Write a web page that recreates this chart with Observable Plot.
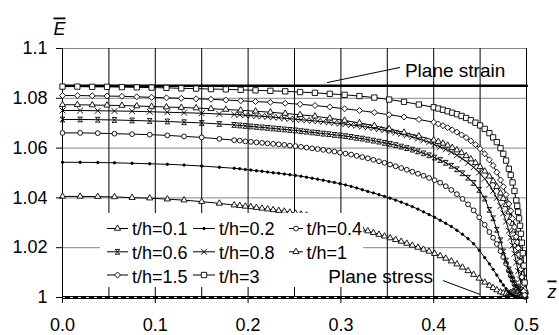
<!DOCTYPE html>
<html><head><meta charset="utf-8">
<script src="https://cdn.jsdelivr.net/npm/d3@7"></script>
<script src="https://cdn.jsdelivr.net/npm/@observablehq/plot@0.6"></script>
<style>body{margin:0;background:#fff;} #chart{width:559px;height:335px;}</style>
</head><body><div id="chart"></div>
<script>
// ---- data ----
const zThin = [
 0, 0.019, 0.038, 0.056, 0.075, 0.094, 0.113, 0.131, 0.150, 0.169,
 0.185, 0.191, 0.197, 0.203, 0.209, 0.215, 0.221, 0.227, 0.233, 0.239,
 0.245, 0.251, 0.257, 0.263, 0.269, 0.275, 0.281, 0.287, 0.293, 0.299,
 0.305, 0.311, 0.317, 0.323, 0.329, 0.335, 0.341, 0.347, 0.353, 0.359,
 0.365, 0.371, 0.377, 0.383, 0.389, 0.395, 0.401, 0.407, 0.413, 0.419,
 0.425, 0.431, 0.437, 0.443, 0.449, 0.455, 0.460, 0.464, 0.468, 0.472,
 0.475, 0.478, 0.481, 0.483, 0.485, 0.487, 0.489, 0.491, 0.493, 0.495,
 0.497, 0.499];
const zThick = [
 0, 0.016, 0.032, 0.048, 0.064, 0.08, 0.096, 0.112, 0.128, 0.144,
 0.16, 0.176, 0.192, 0.208, 0.224, 0.24, 0.256, 0.272, 0.288, 0.304,
 0.32, 0.336, 0.352, 0.368, 0.384, 0.400, 0.405, 0.410, 0.415, 0.420,
 0.425, 0.430, 0.435, 0.440, 0.445, 0.450, 0.455, 0.460, 0.464, 0.468,
 0.472, 0.475, 0.478, 0.481, 0.483, 0.485, 0.487, 0.489, 0.490, 0.491,
 0.492, 0.493, 0.494, 0.495, 0.496, 0.497, 0.498];

const e01 = [
 1.0406, 1.0406, 1.0405, 1.0404, 1.0401, 1.0399, 1.0395, 1.0391, 1.0385, 1.0378,
 1.0371, 1.0369, 1.0366, 1.0364, 1.0361, 1.0358, 1.0355, 1.0352, 1.0349, 1.0346,
 1.0342, 1.0338, 1.0334, 1.0330, 1.0325, 1.0320, 1.0315, 1.0309, 1.0304, 1.0298,
 1.0292, 1.0286, 1.0280, 1.0274, 1.0267, 1.0260, 1.0253, 1.0246, 1.0239, 1.0232,
 1.0225, 1.0217, 1.0209, 1.0201, 1.0193, 1.0185, 1.0176, 1.0167, 1.0157, 1.0146,
 1.0134, 1.0121, 1.0107, 1.0092, 1.0077, 1.0061, 1.0048, 1.0039, 1.0030, 1.0022,
 1.0018, 1.0016, 1.0017, 1.0019, 1.0022, 1.0026, 1.0030, 1.0034, 1.0036, 1.0035,
 1.0030, 1.0022];
const e02 = [
 1.0543, 1.0543, 1.0542, 1.0541, 1.0539, 1.0537, 1.0535, 1.0532, 1.0528, 1.0523,
 1.0519, 1.0517, 1.0514, 1.0512, 1.0509, 1.0507, 1.0504, 1.0501, 1.0499, 1.0496,
 1.0493, 1.0490, 1.0487, 1.0483, 1.0479, 1.0475, 1.0471, 1.0466, 1.0462, 1.0457,
 1.0452, 1.0446, 1.0440, 1.0433, 1.0426, 1.0420, 1.0413, 1.0406, 1.0399, 1.0391,
 1.0383, 1.0374, 1.0365, 1.0355, 1.0344, 1.0333, 1.0322, 1.0310, 1.0298, 1.0285,
 1.0270, 1.0254, 1.0236, 1.0216, 1.0190, 1.0160, 1.0135, 1.0113, 1.0090, 1.0066,
 1.0050, 1.0035, 1.0022, 1.0015, 1.0010, 1.0007, 1.0005, 1.0004, 1.0004, 1.0005,
 1.0006, 1.0008];
const e04 = [
 1.0661, 1.0661, 1.0660, 1.0658, 1.0656, 1.0654, 1.0651, 1.0647, 1.0643, 1.0637,
 1.0632, 1.0630, 1.0627, 1.0625, 1.0623, 1.0621, 1.0619, 1.0617, 1.0615, 1.0613,
 1.0610, 1.0608, 1.0605, 1.0602, 1.0599, 1.0596, 1.0593, 1.0589, 1.0586, 1.0582,
 1.0578, 1.0574, 1.0569, 1.0564, 1.0559, 1.0553, 1.0547, 1.0541, 1.0534, 1.0527,
 1.0520, 1.0513, 1.0505, 1.0497, 1.0489, 1.0480, 1.0471, 1.0461, 1.0447, 1.0432,
 1.0415, 1.0396, 1.0374, 1.0350, 1.0322, 1.0292, 1.0263, 1.0240, 1.0215, 1.0186,
 1.0162, 1.0136, 1.0108, 1.0089, 1.0071, 1.0053, 1.0037, 1.0024, 1.0014, 1.0008,
 1.0004, 1.0002];
const e06 = [
 1.0715, 1.0715, 1.0714, 1.0713, 1.0711, 1.0709, 1.0707, 1.0704, 1.0701, 1.0697,
 1.0693, 1.0691, 1.0689, 1.0687, 1.0685, 1.0683, 1.0681, 1.0679, 1.0677, 1.0675,
 1.0673, 1.0671, 1.0668, 1.0666, 1.0663, 1.0661, 1.0658, 1.0656, 1.0653, 1.0651,
 1.0648, 1.0645, 1.0641, 1.0638, 1.0634, 1.0630, 1.0626, 1.0621, 1.0617, 1.0612,
 1.0606, 1.0600, 1.0594, 1.0587, 1.0579, 1.0571, 1.0562, 1.0552, 1.0541, 1.0529,
 1.0515, 1.0499, 1.0481, 1.0460, 1.0432, 1.0397, 1.0352, 1.0318, 1.0272, 1.0230,
 1.0185, 1.0148, 1.0113, 1.0092, 1.0073, 1.0057, 1.0043, 1.0032, 1.0023, 1.0016,
 1.0010, 1.0006];
const e08 = [
 1.0751, 1.0751, 1.0750, 1.0749, 1.0748, 1.0746, 1.0744, 1.0742, 1.0740, 1.0737,
 1.0735, 1.0734, 1.0732, 1.0731, 1.0729, 1.0728, 1.0726, 1.0724, 1.0722, 1.0720,
 1.0718, 1.0716, 1.0714, 1.0712, 1.0710, 1.0708, 1.0706, 1.0703, 1.0701, 1.0699,
 1.0696, 1.0693, 1.0690, 1.0687, 1.0684, 1.0680, 1.0676, 1.0672, 1.0667, 1.0662,
 1.0657, 1.0651, 1.0645, 1.0638, 1.0631, 1.0623, 1.0614, 1.0605, 1.0595, 1.0584,
 1.0571, 1.0557, 1.0541, 1.0523, 1.0502, 1.0477, 1.0452, 1.0428, 1.0400, 1.0367,
 1.0338, 1.0305, 1.0268, 1.0240, 1.0209, 1.0176, 1.0141, 1.0106, 1.0073, 1.0045,
 1.0024, 1.0012];
const e1 = [
 1.0774, 1.0774, 1.0773, 1.0772, 1.0771, 1.0769, 1.0767, 1.0765, 1.0763, 1.0761,
 1.0758, 1.0755, 1.0752, 1.0748, 1.0744, 1.0739, 1.0734, 1.0728, 1.0720, 1.0711,
 1.0701, 1.0690, 1.0677, 1.0663, 1.0648, 1.0632, 1.0626, 1.0619, 1.0611, 1.0602,
 1.0592, 1.0581, 1.0569, 1.0556, 1.0541, 1.0525, 1.0507, 1.0487, 1.0468, 1.0445,
 1.0419, 1.0397, 1.0372, 1.0343, 1.0321, 1.0297, 1.0270, 1.0240, 1.0223, 1.0205,
 1.0186, 1.0165, 1.0143, 1.0119, 1.0093, 1.0065, 1.0035];
const e15 = [
 1.0811, 1.0811, 1.0810, 1.0809, 1.0808, 1.0806, 1.0804, 1.0802, 1.0800, 1.0798,
 1.0796, 1.0793, 1.0790, 1.0787, 1.0784, 1.0780, 1.0776, 1.0771, 1.0765, 1.0758,
 1.0751, 1.0743, 1.0734, 1.0725, 1.0715, 1.0704, 1.0697, 1.0690, 1.0682, 1.0673,
 1.0664, 1.0653, 1.0642, 1.0629, 1.0614, 1.0597, 1.0577, 1.0553, 1.0530, 1.0503,
 1.0472, 1.0445, 1.0413, 1.0376, 1.0348, 1.0317, 1.0283, 1.0244, 1.0222, 1.0198,
 1.0172, 1.0144, 1.0114, 1.0082, 1.0050, 1.0025, 1.0010];
const e3 = [
 1.0847, 1.0847, 1.0846, 1.0846, 1.0845, 1.0844, 1.0843, 1.0842, 1.0840, 1.0839,
 1.0837, 1.0836, 1.0834, 1.0832, 1.0830, 1.0828, 1.0825, 1.0822, 1.0818, 1.0814,
 1.0809, 1.0803, 1.0795, 1.0786, 1.0775, 1.0764, 1.0759, 1.0754, 1.0748, 1.0742,
 1.0736, 1.0729, 1.0721, 1.0712, 1.0702, 1.0691, 1.0677, 1.0660, 1.0643, 1.0624,
 1.0600, 1.0577, 1.0550, 1.0517, 1.0492, 1.0462, 1.0428, 1.0390, 1.0368, 1.0344,
 1.0318, 1.0288, 1.0256, 1.0220, 1.0178, 1.0128, 1.0060];

const seriesNames = ["t/h=0.1","t/h=0.2","t/h=0.4","t/h=0.6","t/h=0.8","t/h=1","t/h=1.5","t/h=3"];
const xTicks = [0, 0.1, 0.2, 0.3, 0.4, 0.5];
const xTickLabels = ["0.0","0.1","0.2","0.3","0.4","0.5"];
const yTicks = [1, 1.02, 1.04, 1.06, 1.08, 1.1];
const yTickLabels = ["1","1.02","1.04","1.06","1.08","1.1"];
const xGrid = [0.05, 0.1, 0.15, 0.2, 0.25, 0.3, 0.35, 0.4, 0.45, 0.5];
const yGrid = [1.02, 1.04, 1.06, 1.08, 1.1];
const planeStrainE = 1.085;
const planeStressE = 1;
const strainNote = {label: "Plane strain", z: 0.369, e: 1.0884, z1: 0.285, e1: 1.0863, z2: 0.3637, e2: 1.0924};
const stressNote = {label: "Plane stress", z: 0.2865, e: 1.0057, z1: 0.410, e1: 1.0068, z2: 0.4501, e2: 1.0012};
const yLabel = "E";
const xLabel = "z";

// ---- styles ----
const hourglass = {draw(ctx, size){const s = Math.sqrt(size)/2; ctx.moveTo(-s,-s); ctx.lineTo(s,-s); ctx.lineTo(-s,s); ctx.lineTo(s,s); ctx.closePath();}};
const symMap = {triangle: d3.symbolTriangle, circle: d3.symbolCircle, times: d3.symbolTimes, diamond2: d3.symbolDiamond2, square: d3.symbolSquare};
const styles = [
 {symbol: "triangle", r: 2.3, fill: "#fff"},
 {symbol: "circle", r: 1.2, fill: "#000"},
 {symbol: "circle", r: 2.4, fill: "#fff"},
 {symbol: hourglass, r: 2.7, fill: "none"},
 {symbol: "times", r: 2.8, fill: "none"},
 {symbol: "triangle", r: 2.3, fill: "#fff"},
 {symbol: "diamond2", r: 2.7, fill: "#fff"},
 {symbol: "square", r: 3.0, fill: "#fff"}
];
const seriesData = [[zThin,e01],[zThin,e02],[zThin,e04],[zThin,e06],[zThin,e08],[zThick,e1],[zThick,e15],[zThick,e3]];

const series = seriesNames.map((name, k) => {
  const [zs, es] = seriesData[k];
  const n = Math.min(zs.length, es.length);
  return {name, rows: zs.slice(0, n).map((z, i) => ({z, e: es[i]})), ...styles[k]};
});

const FONT = "'Liberation Sans', Arial, Helvetica, sans-serif";

const marks = [
  Plot.ruleY(yGrid, {stroke: "#888", strokeWidth: 1}),
  Plot.ruleX(xGrid, {stroke: "#000", strokeWidth: 1}),
  Plot.ruleX([0], {stroke: "#000", strokeWidth: 1}),
  Plot.ruleY([planeStrainE], {x1: 0, x2: 0.502, stroke: "#000", strokeWidth: 2.5}),
  Plot.ruleY([planeStressE], {stroke: "#000", strokeWidth: 3}),
  Plot.ruleY([planeStressE], {stroke: "#fff", strokeWidth: 1, strokeDasharray: "3,5"}),
];
for (const s of series) {
  marks.push(Plot.line(s.rows, {x: "z", y: "e", stroke: "#000", strokeWidth: 1}));
  marks.push(Plot.dot(s.rows, {x: "z", y: "e", symbol: s.symbol, r: s.r, fill: s.fill, stroke: "#000", strokeWidth: 0.9}));
}
marks.push(
  Plot.axisX({ticks: xTicks, tickFormat: d => xTickLabels[xTicks.indexOf(d)], tickSize: 6, tickPadding: 15, label: null, fontSize: 18}),
  Plot.axisY({ticks: yTicks, tickFormat: d => yTickLabels[yTicks.indexOf(d)], tickSize: 6, tickPadding: 9, label: null, fontSize: 18}),
  Plot.link([strainNote], {x1: "z1", y1: "e1", x2: "z2", y2: "e2", stroke: "#000", strokeWidth: 1}),
  Plot.link([stressNote], {x1: "z1", y1: "e1", x2: "z2", y2: "e2", stroke: "#000", strokeWidth: 1}),
  Plot.text([strainNote], {x: "z", y: "e", text: "label", textAnchor: "start", lineAnchor: "bottom", fontSize: 19, fill: "#000"}),
  Plot.text([stressNote], {x: "z", y: "e", text: "label", textAnchor: "start", lineAnchor: "bottom", fontSize: 19, fill: "#000"}),
  Plot.text([yLabel], {text: d => d, frameAnchor: "top-left", dx: -9, dy: -14, textAnchor: "start", lineAnchor: "bottom", fontSize: 18, fontStyle: "italic", fill: "#000"}),
  Plot.text([xLabel], {text: d => d, frameAnchor: "bottom-right", dx: 21, dy: 0, textAnchor: "start", lineAnchor: "bottom", fontSize: 18, fontStyle: "italic", fill: "#000"})
);

const svg = Plot.plot({
  width: 559, height: 335,
  marginLeft: 62, marginRight: 33, marginTop: 48, marginBottom: 38,
  x: {domain: [0, 0.5]},
  y: {domain: [1, 1.1]},
  style: {fontFamily: FONT, fontSize: "18px", color: "#000", background: "#fff", overflow: "visible"},
  marks
});
document.getElementById("chart").appendChild(svg);

const root = d3.select(svg);
root.selectAll("text").filter(function(){ return this.textContent === yLabel || this.textContent === xLabel; })
  .style("text-decoration", "overline");

// legend inside the plot area
const lg = root.append("g").attr("font-family", FONT).attr("font-size", 18).attr("fill", "#000").attr("text-anchor", "start");
lg.append("rect").attr("x", 100).attr("y", 213).attr("width", 263).attr("height", 74).style("fill", "#fff").style("stroke", "none");
const colX = [[107, 128, 132], [193, 215, 219], [289, 303, 306.5]];
const rowY = [[228.5, 235], [251.8, 258.5], [275, 282.5]];
series.forEach((s, k) => {
  const col = colX[k % 3], row = rowY[Math.floor(k / 3)];
  lg.append("line").attr("x1", col[0]).attr("x2", col[1]).attr("y1", row[0]).attr("y2", row[0]).style("stroke", "#000").style("stroke-width", 1);
  const type = typeof s.symbol === "string" ? symMap[s.symbol] : s.symbol;
  lg.append("path").attr("d", d3.symbol().type(type).size(s.r * s.r * Math.PI)())
    .attr("transform", `translate(${(col[0] + col[1]) / 2},${row[0]})`)
    .style("fill", s.fill).style("stroke", "#000").style("stroke-width", 0.9);
  lg.append("text").attr("x", col[2]).attr("y", row[1]).style("text-anchor", "start").style("fill", "#000").text(s.name);
});
// the "Plane stress" note sits above the legend box
root.selectAll("text").filter(function(){ return this.textContent === stressNote.label; })
  .each(function(){ const g = this.closest("g[aria-label]") || this.parentNode; svg.appendChild(g); });
</script>
</body></html>
